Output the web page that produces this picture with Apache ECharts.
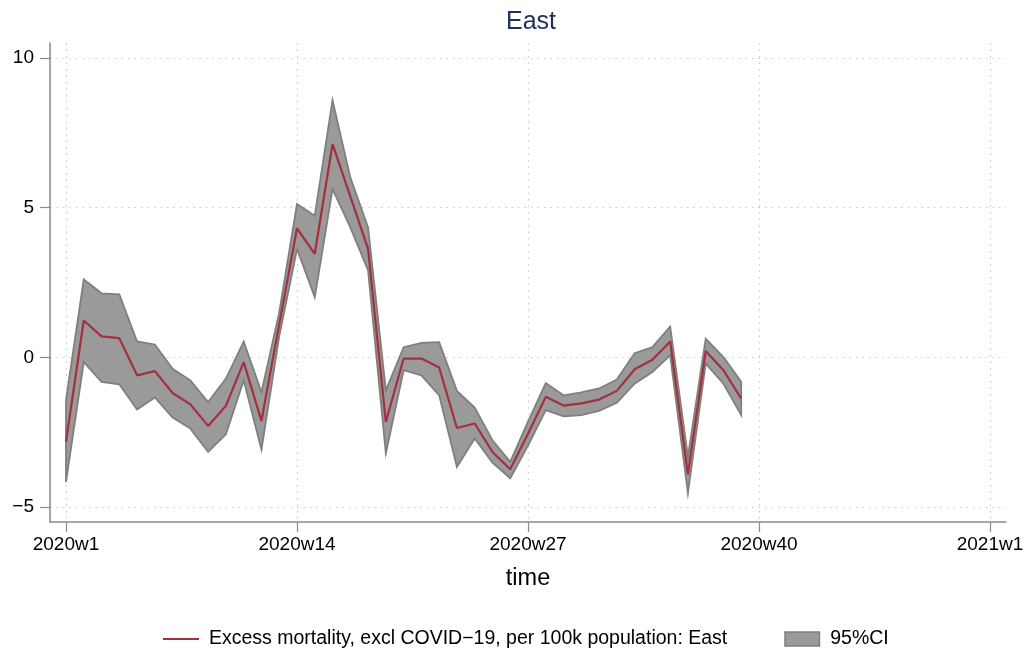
<!DOCTYPE html>
<html>
<head>
<meta charset="utf-8">
<script src="https://cdn.jsdelivr.net/npm/echarts@6/dist/echarts.min.js"></script>
<style>html,body{margin:0;padding:0;background:#fff}#c{width:1033px;height:648px}</style>
</head>
<body>
<div id="c"></div>
<script>
// Week numbers of 2020 (x position = week - 1)
var weeks = [1,2,3,4,5,6,7,8,9,10,11,12,13,14,15,16,17,18,19,20,21,22,23,24,25,26,27,28,29,30,31,32,33,34,35,36,37,38,39];
var excess = [-2.82,1.23,0.70,0.64,-0.60,-0.46,-1.19,-1.57,-2.29,-1.62,-0.16,-2.12,1.10,4.31,3.46,7.12,5.38,3.62,-2.16,-0.04,-0.04,-0.34,-2.36,-2.21,-3.16,-3.74,-2.55,-1.32,-1.61,-1.54,-1.41,-1.12,-0.40,-0.08,0.53,-3.91,0.21,-0.43,-1.38];
var upper  = [-1.43,2.60,2.14,2.10,0.53,0.43,-0.38,-0.77,-1.49,-0.71,0.53,-1.16,1.50,5.12,4.73,8.59,6.01,4.34,-1.10,0.34,0.48,0.51,-1.12,-1.68,-2.77,-3.49,-2.15,-0.86,-1.27,-1.17,-1.04,-0.74,0.14,0.34,1.03,-3.32,0.62,0.01,-0.82];
var lower  = [-4.16,-0.16,-0.82,-0.90,-1.74,-1.34,-2.01,-2.38,-3.16,-2.57,-0.77,-3.08,0.70,3.62,2.01,5.62,4.34,2.90,-3.21,-0.43,-0.60,-1.27,-3.66,-2.71,-3.52,-4.04,-2.95,-1.76,-1.97,-1.93,-1.79,-1.52,-0.88,-0.49,0.07,-4.54,-0.21,-0.88,-1.93];
var xTickValues = [0,13,26,39,52];
var xTickLabels = ['2020w1','2020w14','2020w27','2020w40','2021w1'];
var yTickValues = [-5,0,5,10];

var lineName = 'Excess mortality, excl COVID\u221219, per 100k population: East';
var ciName = '95%CI';
var FONT = 'Liberation Sans, Arial, Helvetica, sans-serif';

var lineData = weeks.map(function(w,i){return [w-1, excess[i]];});
var bandData = weeks.map(function(w,i){return [w-1, lower[i], upper[i]];});

var chart = echarts.init(document.getElementById('c'), null, {renderer:'canvas'});
var gridDots = {show:true, lineStyle:{color:'#c8c8c8', width:1.2, type:[1.5,5]}};

function renderBand(params, api){
  if (params.dataIndex !== 0) return null;
  var top = [], bot = [];
  for (var i = 0; i < bandData.length; i++){
    top.push(api.coord([bandData[i][0], bandData[i][2]]));
    bot.push(api.coord([bandData[i][0], bandData[i][1]]));
  }
  var pts = top.concat(bot.reverse());
  return {type:'polygon', shape:{points:pts},
    style:{fill:'#9a9a9a', stroke:'#7f7f7f', lineWidth:1.8, lineJoin:'miter'}};
}

chart.setOption({
  animation:false,
  backgroundColor:'#ffffff',
  title:{text:'East', left:501, top:5, textStyle:{fontFamily:FONT, fontSize:25, fontWeight:'normal', color:'#1f2e5c'}},
  grid:{left:50, right:27, top:43, bottom:126},
  legend:{
    left:158, top:624, itemWidth:36, itemHeight:14, itemGap:57, symbolKeepAspect:true,
    textStyle:{fontFamily:FONT, fontSize:19.5, color:'#000', padding:[0,0,0,5]},
    data:[
      {name:lineName, icon:'path://M0,0H36V2.2H0Z', itemStyle:{color:'#a3303e'}},
      {name:ciName, icon:'path://M0,0H32V13H0Z', itemStyle:{color:'#9a9a9a', borderColor:'#7f7f7f', borderWidth:1.5}}
    ]
  },
  xAxis:{
    type:'value', min:-0.9, max:52.9,
    name:'time', nameLocation:'middle', nameGap:45,
    nameTextStyle:{fontFamily:FONT, fontSize:23.5, color:'#000'},
    axisLine:{show:true, onZero:false, lineStyle:{color:'#8a8a8a', width:1.5}},
    axisTick:{show:true, length:10, customValues:xTickValues, lineStyle:{color:'#8a8a8a', width:1.2}},
    axisLabel:{customValues:xTickValues, margin:13, fontFamily:FONT, fontSize:19, color:'#000',
      formatter:function(v){var k=xTickValues.indexOf(Math.round(v)); return k>=0?xTickLabels[k]:'';}},
    splitLine:gridDots
  },
  yAxis:{
    type:'value', min:-5.5, max:10.5,
    axisLine:{show:true, onZero:false, lineStyle:{color:'#8a8a8a', width:1.5}},
    axisTick:{show:true, length:10, customValues:yTickValues, lineStyle:{color:'#8a8a8a', width:1.2}},
    axisLabel:{customValues:yTickValues, margin:16, fontFamily:FONT, fontSize:19, color:'#000',
      formatter:function(v){return String(v).replace('-', '\u2212');}},
    splitLine:gridDots
  },
  series:[
    {name:ciName, type:'custom', data:bandData, renderItem:renderBand,
      encode:{x:0, y:[1,2]}, itemStyle:{color:'#9a9a9a', borderColor:'#7f7f7f', borderWidth:1.5}, z:2, silent:true},
    {name:lineName, type:'line', data:lineData, symbol:'none',
      lineStyle:{color:'#a3303e', width:2.2}, itemStyle:{color:'#a3303e'}, z:3}
  ]
});
</script>
</body>
</html>
